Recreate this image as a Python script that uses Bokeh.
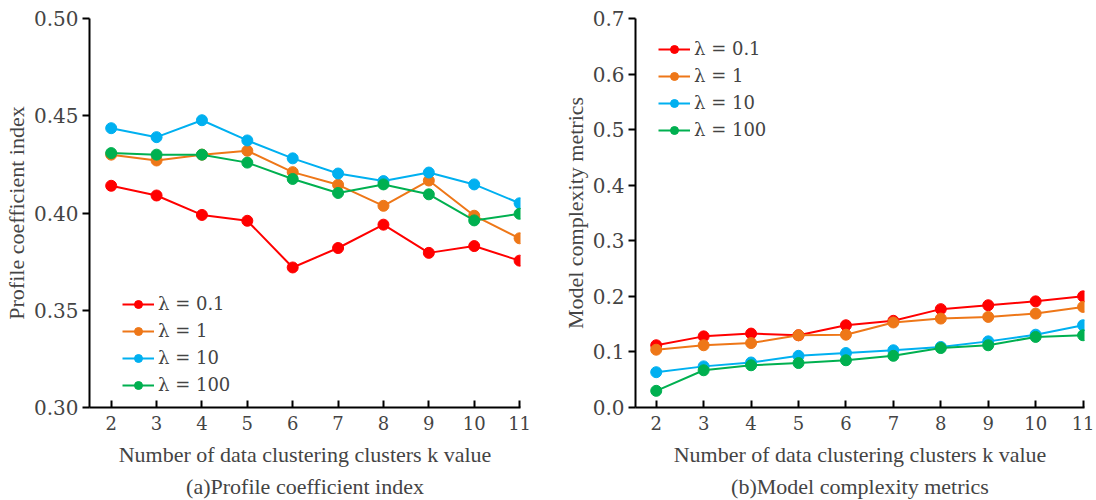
from bokeh.plotting import figure
from bokeh.layouts import row
from bokeh.models import Range1d, FixedTicker, Legend, LegendItem, Title, NumeralTickFormatter
from bokeh.embed import file_html
from bokeh.resources import INLINE

k_values = [2, 3, 4, 5, 6, 7, 8, 9, 10, 11]
series_labels = ["λ = 0.1", "λ = 1", "λ = 10", "λ = 100"]
colors = ["#FF0000", "#EE7718", "#00B0F0", "#00B050"]

profile_l01 = [0.414, 0.409, 0.399, 0.396, 0.372, 0.382, 0.394, 0.3795, 0.383, 0.3755]
profile_l1 = [0.430, 0.427, 0.430, 0.432, 0.421, 0.4145, 0.4037, 0.4167, 0.3986, 0.387]
profile_l10 = [0.4436, 0.439, 0.4477, 0.4373, 0.4281, 0.4203, 0.4164, 0.4208, 0.4147, 0.405]
profile_l100 = [0.4308, 0.430, 0.430, 0.4259, 0.4175, 0.4103, 0.4147, 0.4096, 0.3962, 0.3996]

complexity_l01 = [0.112, 0.128, 0.133, 0.130, 0.148, 0.156, 0.177, 0.184, 0.191, 0.200]
complexity_l1 = [0.104, 0.112, 0.116, 0.130, 0.131, 0.153, 0.160, 0.163, 0.169, 0.181]
complexity_l10 = [0.0635, 0.074, 0.081, 0.093, 0.098, 0.103, 0.109, 0.119, 0.131, 0.148]
complexity_l100 = [0.030, 0.067, 0.076, 0.080, 0.085, 0.093, 0.107, 0.112, 0.127, 0.130]

FONT = "Liberation Serif"
TICK_FONT = "DejaVu Serif"


def make_panel(series, xr, yr, yticks, yfmt, ylabel, caption, width, border_left, frame_w,
               border_top, legend_loc):
    p = figure(width=width, height=500, output_backend="svg", toolbar_location=None,
               x_range=Range1d(*xr), y_range=Range1d(*yr),
               min_border_left=border_left, min_border_right=width - border_left - frame_w,
               min_border_top=border_top, min_border_bottom=93)
    p.outline_line_color = None
    p.xgrid.visible = False
    p.ygrid.visible = False
    p.background_fill_color = "white"
    p.border_fill_color = "white"

    items = []
    for vals, lab, col in zip(series, series_labels, colors):
        ln = p.line(k_values, vals, line_color=col, line_width=2)
        sc = p.scatter(k_values, vals, size=11, fill_color=col, line_color=col)
        items.append(LegendItem(label=lab, renderers=[ln, sc]))

    leg = Legend(items=items, location=legend_loc, padding=0, margin=0, spacing=6,
                 glyph_width=32, glyph_height=20, label_height=20, label_standoff=4,
                 label_text_font=TICK_FONT, label_text_font_size="18px",
                 label_text_font_style="normal",
                 border_line_color=None, background_fill_alpha=0)
    p.add_layout(leg, "center")

    xa = p.xaxis[0]
    xa.ticker = FixedTicker(ticks=k_values)
    xa.minor_tick_line_color = None
    xa.major_tick_in = 7
    xa.major_tick_out = 0
    xa.major_tick_line_width = 2
    xa.axis_line_width = 2
    xa.major_label_standoff = 8
    xa.major_label_text_font = TICK_FONT
    xa.major_label_text_font_size = "18px"
    xa.major_label_text_font_style = "normal"
    xa.axis_label = "Number of data clustering clusters k value"
    xa.axis_label_text_font = FONT
    xa.axis_label_text_font_size = "22px"
    xa.axis_label_text_font_style = "normal"
    xa.axis_label_standoff = 9

    ya = p.yaxis[0]
    ya.ticker = FixedTicker(ticks=yticks)
    ya.formatter = NumeralTickFormatter(format=yfmt)
    ya.minor_tick_line_color = None
    ya.major_tick_in = 0
    ya.major_tick_out = 7
    ya.major_tick_line_width = 2
    ya.axis_line_width = 2
    ya.major_label_standoff = 4
    ya.major_label_text_font = TICK_FONT
    ya.major_label_text_font_size = "20px"
    ya.major_label_text_font_style = "normal"
    ya.axis_label = ylabel
    ya.axis_label_text_font = FONT
    ya.axis_label_text_font_size = "22px"
    ya.axis_label_text_font_style = "normal"
    ya.axis_label_standoff = 2

    p.add_layout(Title(text=caption, align="center", text_font=FONT, text_font_size="22px",
                       text_font_style="normal", standoff=4), "below")
    return p


left = make_panel([profile_l01, profile_l1, profile_l10, profile_l100],
                  (1.522, 11.02), (0.30, 0.50), [0.30, 0.35, 0.40, 0.45, 0.50], "0.00",
                  "Profile coefficient index", "(a)Profile coefficient index",
                  548, 83, 437, 15, (33, 12))
right = make_panel([complexity_l01, complexity_l1, complexity_l10, complexity_l100],
                   (1.563, 11.03), (0.0, 0.7), [0.0, 0.1, 0.2, 0.3, 0.4, 0.5, 0.6, 0.7], "0.0",
                   "Model complexity metrics", "(b)Model complexity metrics",
                   548, 87, 449, 18, (23, 267))

layout = row(left, right, spacing=0)
open("out.html", "w").write(file_html(layout, INLINE))
